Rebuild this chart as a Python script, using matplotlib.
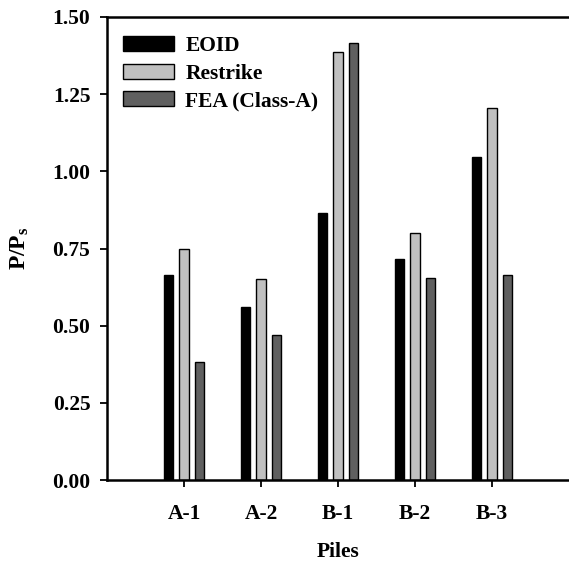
import matplotlib
matplotlib.use("Agg")
import matplotlib.pyplot as plt
import numpy as np

# Data
piles = ['A-1', 'A-2', 'B-1', 'B-2', 'B-3']
eoid = [0.665, 0.56, 0.865, 0.716, 1.047]
restrike = [0.75, 0.652, 1.388, 0.80, 1.206]
fea = [0.382, 0.471, 1.415, 0.653, 0.664]
series = ['EOID', 'Restrike', 'FEA (Class-A)']
colors = ['#000000', '#c0c0c0', '#606060']

plt.rcParams['font.family'] = ['Liberation Serif', 'DejaVu Serif']
plt.rcParams['font.weight'] = 'bold'
plt.rcParams['mathtext.fontset'] = 'custom'
plt.rcParams['mathtext.bf'] = 'Liberation Serif:bold'
plt.rcParams['mathtext.rm'] = 'Liberation Serif:bold'

fig = plt.figure(figsize=(5.69, 5.61), dpi=100)
ax = fig.add_axes([107 / 569, 1 - 480 / 561, 1 - 107 / 569, (480 - 17) / 561])

x = np.arange(1, len(piles) + 1)
w = 0.12
step = 0.2
for i, (vals, name, c) in enumerate(zip([eoid, restrike, fea], series, colors)):
    ax.bar(x + (i - 1) * step, vals, width=w, color=c, edgecolor='black',
           linewidth=1.0, label=name)

ax.set_xlim(0, 6)
ax.set_ylim(0, 1.5)
ax.set_yticks([0, 0.25, 0.5, 0.75, 1.0, 1.25, 1.5])
ax.set_yticklabels(['0.00', '0.25', '0.50', '0.75', '1.00', '1.25', '1.50'])
ax.set_xticks(x)
ax.set_xticklabels(piles)
ax.tick_params(axis='y', direction='out', length=5, width=1.3, pad=7, labelsize=15.5)
ax.tick_params(axis='x', direction='out', length=5, width=1.3, pad=12, labelsize=15.5)
for s in ['left', 'bottom', 'top']:
    ax.spines[s].set_linewidth(1.8)
ax.spines['right'].set_visible(False)

ax.set_xlabel('Piles', fontsize=15.5, fontweight='bold', labelpad=13)
ax.set_ylabel(r'$\mathbf{P/P_s}$', fontsize=17, labelpad=15)

ax.legend(loc='upper left', bbox_to_anchor=(123 / 569, 1 - 36 / 561),
          bbox_transform=fig.transFigure, frameon=False, fontsize=15.5,
          handlelength=2.35, handleheight=0.7, handletextpad=0.55,
          labelspacing=0.35, borderpad=0, borderaxespad=0)

fig.savefig('out.png', dpi=100)
